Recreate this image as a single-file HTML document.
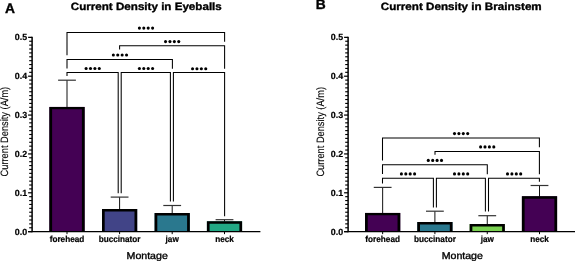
<!DOCTYPE html>
<html><head><meta charset="utf-8"><style>
html,body{margin:0;padding:0;background:#fff;}
svg{display:block;filter:blur(0.35px);}
text{font-family:"Liberation Sans", sans-serif;fill:#000;text-rendering:geometricPrecision;}
.t{stroke:#000;stroke-width:0.35px;}
.t2{stroke:#000;stroke-width:0.2px;}
.t3{stroke:#000;stroke-width:0.12px;}
.t4{stroke:#000;stroke-width:0.35px;}
</style></head><body>
<svg width="575" height="261" viewBox="0 0 575 261">
<rect width="575" height="261" fill="#fff"/>
<text x="5.0" y="12.5" class="t" font-size="13.8" font-weight="bold">A</text>
<text x="315.8" y="9.4" class="t" font-size="13.8" font-weight="bold">B</text>
<text x="70.8" y="9.7" class="t" font-size="10.6" font-weight="bold" textLength="151" lengthAdjust="spacingAndGlyphs">Current Density in Eyeballs</text>
<text x="380.8" y="9.7" class="t" font-size="10.6" font-weight="bold" textLength="160.9" lengthAdjust="spacingAndGlyphs">Current Density in Brainstem</text>
<text transform="translate(8,131.6) scale(1.12,1) rotate(-90)" x="0" y="0" class="t3" font-size="9.5" text-anchor="middle" textLength="89.6" lengthAdjust="spacingAndGlyphs">Current Density (A/m)</text>
<text transform="translate(323.6,131.8) scale(1.12,1) rotate(-90)" x="0" y="0" class="t3" font-size="9.5" text-anchor="middle" textLength="89.6" lengthAdjust="spacingAndGlyphs">Current Density (A/m)</text>
<text x="147.2" y="258.8" class="t4" font-size="9.9" text-anchor="middle" textLength="41.2" lengthAdjust="spacingAndGlyphs">Montage</text>
<text x="462.3" y="258.8" class="t4" font-size="9.9" text-anchor="middle" textLength="41.2" lengthAdjust="spacingAndGlyphs">Montage</text>
<line x1="67" y1="80.2" x2="67" y2="107.9" stroke="#111" stroke-width="1.0"/>
<line x1="58.1" y1="80.2" x2="75.9" y2="80.2" stroke="#333" stroke-width="1.2"/>
<rect x="49.4" y="106.9" width="35.2" height="124.75" fill="#440154"/>
<path d="M49.4 231.65V106.9H84.6V231.65h-2.7V109.3H52.1V231.65z" fill="#000"/>
<line x1="67" y1="231.65" x2="67" y2="234.15" stroke="#000" stroke-width="1"/>
<text x="67" y="242.4" font-size="8.8" font-weight="bold" class="t2" text-anchor="middle" textLength="34.6" lengthAdjust="spacingAndGlyphs">forehead</text>
<line x1="119.6" y1="197.1" x2="119.6" y2="210" stroke="#111" stroke-width="1.0"/>
<line x1="110.7" y1="197.1" x2="128.5" y2="197.1" stroke="#333" stroke-width="1.2"/>
<rect x="102" y="209" width="35.2" height="22.65" fill="#414487"/>
<path d="M102 231.65V209H137.2V231.65h-2.7V211.4H104.7V231.65z" fill="#000"/>
<line x1="119.6" y1="231.65" x2="119.6" y2="234.15" stroke="#000" stroke-width="1"/>
<text x="119.6" y="242.4" font-size="8.8" font-weight="bold" class="t2" text-anchor="middle" textLength="41.9" lengthAdjust="spacingAndGlyphs">buccinator</text>
<line x1="172.2" y1="205.5" x2="172.2" y2="214.1" stroke="#111" stroke-width="1.0"/>
<line x1="163.3" y1="205.5" x2="181.1" y2="205.5" stroke="#333" stroke-width="1.2"/>
<rect x="154.6" y="213.1" width="35.2" height="18.55" fill="#2A788E"/>
<path d="M154.6 231.65V213.1H189.8V231.65h-2.7V215.5H157.3V231.65z" fill="#000"/>
<line x1="172.2" y1="231.65" x2="172.2" y2="234.15" stroke="#000" stroke-width="1"/>
<text x="172.2" y="242.4" font-size="8.8" font-weight="bold" class="t2" text-anchor="middle" textLength="13.2" lengthAdjust="spacingAndGlyphs">jaw</text>
<line x1="224.5" y1="219.7" x2="224.5" y2="222.3" stroke="#111" stroke-width="1.0"/>
<line x1="215.6" y1="219.7" x2="233.4" y2="219.7" stroke="#333" stroke-width="1.2"/>
<rect x="206.9" y="221.3" width="35.2" height="10.35" fill="#22A884"/>
<path d="M206.9 231.65V221.3H242.1V231.65h-2.7V223.7H209.6V231.65z" fill="#000"/>
<line x1="224.5" y1="231.65" x2="224.5" y2="234.15" stroke="#000" stroke-width="1"/>
<text x="224.5" y="242.4" font-size="8.8" font-weight="bold" class="t2" text-anchor="middle" textLength="18.7" lengthAdjust="spacingAndGlyphs">neck</text>
<line x1="382.65" y1="187.4" x2="382.65" y2="213.9" stroke="#111" stroke-width="1.0"/>
<line x1="373.75" y1="187.4" x2="391.55" y2="187.4" stroke="#333" stroke-width="1.2"/>
<rect x="365.05" y="212.9" width="35.2" height="18.75" fill="#440154"/>
<path d="M365.05 231.65V212.9H400.25V231.65h-2.7V215.3H367.75V231.65z" fill="#000"/>
<line x1="382.65" y1="231.65" x2="382.65" y2="234.15" stroke="#000" stroke-width="1"/>
<text x="382.65" y="242.4" font-size="8.8" font-weight="bold" class="t2" text-anchor="middle" textLength="34.6" lengthAdjust="spacingAndGlyphs">forehead</text>
<line x1="434.9" y1="211.2" x2="434.9" y2="223" stroke="#111" stroke-width="1.0"/>
<line x1="426" y1="211.2" x2="443.8" y2="211.2" stroke="#333" stroke-width="1.2"/>
<rect x="417.3" y="222" width="35.2" height="9.65" fill="#2A788E"/>
<path d="M417.3 231.65V222H452.5V231.65h-2.7V224.4H420V231.65z" fill="#000"/>
<line x1="434.9" y1="231.65" x2="434.9" y2="234.15" stroke="#000" stroke-width="1"/>
<text x="434.9" y="242.4" font-size="8.8" font-weight="bold" class="t2" text-anchor="middle" textLength="41.9" lengthAdjust="spacingAndGlyphs">buccinator</text>
<line x1="487.25" y1="215.7" x2="487.25" y2="225.1" stroke="#111" stroke-width="1.0"/>
<line x1="478.35" y1="215.7" x2="496.15" y2="215.7" stroke="#333" stroke-width="1.2"/>
<rect x="469.65" y="224.1" width="35.2" height="7.55" fill="#7AD151"/>
<path d="M469.65 231.65V224.1H504.85V231.65h-2.7V226.5H472.35V231.65z" fill="#000"/>
<line x1="487.25" y1="231.65" x2="487.25" y2="234.15" stroke="#000" stroke-width="1"/>
<text x="487.25" y="242.4" font-size="8.8" font-weight="bold" class="t2" text-anchor="middle" textLength="13.2" lengthAdjust="spacingAndGlyphs">jaw</text>
<line x1="539.5" y1="185.5" x2="539.5" y2="197.3" stroke="#111" stroke-width="1.0"/>
<line x1="530.6" y1="185.5" x2="548.4" y2="185.5" stroke="#333" stroke-width="1.2"/>
<rect x="521.9" y="196.3" width="35.2" height="35.35" fill="#440154"/>
<path d="M521.9 231.65V196.3H557.1V231.65h-2.7V198.7H524.6V231.65z" fill="#000"/>
<line x1="539.5" y1="231.65" x2="539.5" y2="234.15" stroke="#000" stroke-width="1"/>
<text x="539.5" y="242.4" font-size="8.8" font-weight="bold" class="t2" text-anchor="middle" textLength="18.7" lengthAdjust="spacingAndGlyphs">neck</text>
<line x1="32.1" y1="36.75" x2="32.1" y2="232.35" stroke="#000" stroke-width="1.5"/>
<line x1="28.1" y1="231.65" x2="260.4" y2="231.65" stroke="#000" stroke-width="1.4"/>
<line x1="28.1" y1="231.65" x2="32.1" y2="231.65" stroke="#000" stroke-width="1.25"/>
<text x="27.1" y="234.75" font-size="8.9" font-weight="bold" class="t2" text-anchor="end">0.0</text>
<line x1="28.1" y1="192.79" x2="32.1" y2="192.79" stroke="#000" stroke-width="1.25"/>
<text x="27.1" y="195.89" font-size="8.9" font-weight="bold" class="t2" text-anchor="end">0.1</text>
<line x1="28.1" y1="153.93" x2="32.1" y2="153.93" stroke="#000" stroke-width="1.25"/>
<text x="27.1" y="157.03" font-size="8.9" font-weight="bold" class="t2" text-anchor="end">0.2</text>
<line x1="28.1" y1="115.07" x2="32.1" y2="115.07" stroke="#000" stroke-width="1.25"/>
<text x="27.1" y="118.17" font-size="8.9" font-weight="bold" class="t2" text-anchor="end">0.3</text>
<line x1="28.1" y1="76.21" x2="32.1" y2="76.21" stroke="#000" stroke-width="1.25"/>
<text x="27.1" y="79.31" font-size="8.9" font-weight="bold" class="t2" text-anchor="end">0.4</text>
<line x1="28.1" y1="37.35" x2="32.1" y2="37.35" stroke="#000" stroke-width="1.25"/>
<text x="27.1" y="40.45" font-size="8.9" font-weight="bold" class="t2" text-anchor="end">0.5</text>
<line x1="29.2" y1="227.76" x2="32.1" y2="227.76" stroke="#000" stroke-width="1.15"/>
<line x1="29.2" y1="223.88" x2="32.1" y2="223.88" stroke="#000" stroke-width="1.15"/>
<line x1="29.2" y1="219.99" x2="32.1" y2="219.99" stroke="#000" stroke-width="1.15"/>
<line x1="29.2" y1="216.11" x2="32.1" y2="216.11" stroke="#000" stroke-width="1.15"/>
<line x1="29.2" y1="212.22" x2="32.1" y2="212.22" stroke="#000" stroke-width="1.15"/>
<line x1="29.2" y1="208.33" x2="32.1" y2="208.33" stroke="#000" stroke-width="1.15"/>
<line x1="29.2" y1="204.45" x2="32.1" y2="204.45" stroke="#000" stroke-width="1.15"/>
<line x1="29.2" y1="200.56" x2="32.1" y2="200.56" stroke="#000" stroke-width="1.15"/>
<line x1="29.2" y1="196.68" x2="32.1" y2="196.68" stroke="#000" stroke-width="1.15"/>
<line x1="29.2" y1="188.9" x2="32.1" y2="188.9" stroke="#000" stroke-width="1.15"/>
<line x1="29.2" y1="185.02" x2="32.1" y2="185.02" stroke="#000" stroke-width="1.15"/>
<line x1="29.2" y1="181.13" x2="32.1" y2="181.13" stroke="#000" stroke-width="1.15"/>
<line x1="29.2" y1="177.25" x2="32.1" y2="177.25" stroke="#000" stroke-width="1.15"/>
<line x1="29.2" y1="173.36" x2="32.1" y2="173.36" stroke="#000" stroke-width="1.15"/>
<line x1="29.2" y1="169.47" x2="32.1" y2="169.47" stroke="#000" stroke-width="1.15"/>
<line x1="29.2" y1="165.59" x2="32.1" y2="165.59" stroke="#000" stroke-width="1.15"/>
<line x1="29.2" y1="161.7" x2="32.1" y2="161.7" stroke="#000" stroke-width="1.15"/>
<line x1="29.2" y1="157.82" x2="32.1" y2="157.82" stroke="#000" stroke-width="1.15"/>
<line x1="29.2" y1="150.04" x2="32.1" y2="150.04" stroke="#000" stroke-width="1.15"/>
<line x1="29.2" y1="146.16" x2="32.1" y2="146.16" stroke="#000" stroke-width="1.15"/>
<line x1="29.2" y1="142.27" x2="32.1" y2="142.27" stroke="#000" stroke-width="1.15"/>
<line x1="29.2" y1="138.39" x2="32.1" y2="138.39" stroke="#000" stroke-width="1.15"/>
<line x1="29.2" y1="134.5" x2="32.1" y2="134.5" stroke="#000" stroke-width="1.15"/>
<line x1="29.2" y1="130.61" x2="32.1" y2="130.61" stroke="#000" stroke-width="1.15"/>
<line x1="29.2" y1="126.73" x2="32.1" y2="126.73" stroke="#000" stroke-width="1.15"/>
<line x1="29.2" y1="122.84" x2="32.1" y2="122.84" stroke="#000" stroke-width="1.15"/>
<line x1="29.2" y1="118.96" x2="32.1" y2="118.96" stroke="#000" stroke-width="1.15"/>
<line x1="29.2" y1="111.18" x2="32.1" y2="111.18" stroke="#000" stroke-width="1.15"/>
<line x1="29.2" y1="107.3" x2="32.1" y2="107.3" stroke="#000" stroke-width="1.15"/>
<line x1="29.2" y1="103.41" x2="32.1" y2="103.41" stroke="#000" stroke-width="1.15"/>
<line x1="29.2" y1="99.53" x2="32.1" y2="99.53" stroke="#000" stroke-width="1.15"/>
<line x1="29.2" y1="95.64" x2="32.1" y2="95.64" stroke="#000" stroke-width="1.15"/>
<line x1="29.2" y1="91.75" x2="32.1" y2="91.75" stroke="#000" stroke-width="1.15"/>
<line x1="29.2" y1="87.87" x2="32.1" y2="87.87" stroke="#000" stroke-width="1.15"/>
<line x1="29.2" y1="83.98" x2="32.1" y2="83.98" stroke="#000" stroke-width="1.15"/>
<line x1="29.2" y1="80.1" x2="32.1" y2="80.1" stroke="#000" stroke-width="1.15"/>
<line x1="29.2" y1="72.32" x2="32.1" y2="72.32" stroke="#000" stroke-width="1.15"/>
<line x1="29.2" y1="68.44" x2="32.1" y2="68.44" stroke="#000" stroke-width="1.15"/>
<line x1="29.2" y1="64.55" x2="32.1" y2="64.55" stroke="#000" stroke-width="1.15"/>
<line x1="29.2" y1="60.67" x2="32.1" y2="60.67" stroke="#000" stroke-width="1.15"/>
<line x1="29.2" y1="56.78" x2="32.1" y2="56.78" stroke="#000" stroke-width="1.15"/>
<line x1="29.2" y1="52.89" x2="32.1" y2="52.89" stroke="#000" stroke-width="1.15"/>
<line x1="29.2" y1="49.01" x2="32.1" y2="49.01" stroke="#000" stroke-width="1.15"/>
<line x1="29.2" y1="45.12" x2="32.1" y2="45.12" stroke="#000" stroke-width="1.15"/>
<line x1="29.2" y1="41.24" x2="32.1" y2="41.24" stroke="#000" stroke-width="1.15"/>
<line x1="348.1" y1="36.75" x2="348.1" y2="232.35" stroke="#000" stroke-width="1.5"/>
<line x1="344.1" y1="231.65" x2="577" y2="231.65" stroke="#000" stroke-width="1.4"/>
<line x1="344.1" y1="231.65" x2="348.1" y2="231.65" stroke="#000" stroke-width="1.25"/>
<text x="343.1" y="234.75" font-size="8.9" font-weight="bold" class="t2" text-anchor="end">0.0</text>
<line x1="344.1" y1="192.79" x2="348.1" y2="192.79" stroke="#000" stroke-width="1.25"/>
<text x="343.1" y="195.89" font-size="8.9" font-weight="bold" class="t2" text-anchor="end">0.1</text>
<line x1="344.1" y1="153.93" x2="348.1" y2="153.93" stroke="#000" stroke-width="1.25"/>
<text x="343.1" y="157.03" font-size="8.9" font-weight="bold" class="t2" text-anchor="end">0.2</text>
<line x1="344.1" y1="115.07" x2="348.1" y2="115.07" stroke="#000" stroke-width="1.25"/>
<text x="343.1" y="118.17" font-size="8.9" font-weight="bold" class="t2" text-anchor="end">0.3</text>
<line x1="344.1" y1="76.21" x2="348.1" y2="76.21" stroke="#000" stroke-width="1.25"/>
<text x="343.1" y="79.31" font-size="8.9" font-weight="bold" class="t2" text-anchor="end">0.4</text>
<line x1="344.1" y1="37.35" x2="348.1" y2="37.35" stroke="#000" stroke-width="1.25"/>
<text x="343.1" y="40.45" font-size="8.9" font-weight="bold" class="t2" text-anchor="end">0.5</text>
<line x1="345.2" y1="227.76" x2="348.1" y2="227.76" stroke="#000" stroke-width="1.15"/>
<line x1="345.2" y1="223.88" x2="348.1" y2="223.88" stroke="#000" stroke-width="1.15"/>
<line x1="345.2" y1="219.99" x2="348.1" y2="219.99" stroke="#000" stroke-width="1.15"/>
<line x1="345.2" y1="216.11" x2="348.1" y2="216.11" stroke="#000" stroke-width="1.15"/>
<line x1="345.2" y1="212.22" x2="348.1" y2="212.22" stroke="#000" stroke-width="1.15"/>
<line x1="345.2" y1="208.33" x2="348.1" y2="208.33" stroke="#000" stroke-width="1.15"/>
<line x1="345.2" y1="204.45" x2="348.1" y2="204.45" stroke="#000" stroke-width="1.15"/>
<line x1="345.2" y1="200.56" x2="348.1" y2="200.56" stroke="#000" stroke-width="1.15"/>
<line x1="345.2" y1="196.68" x2="348.1" y2="196.68" stroke="#000" stroke-width="1.15"/>
<line x1="345.2" y1="188.9" x2="348.1" y2="188.9" stroke="#000" stroke-width="1.15"/>
<line x1="345.2" y1="185.02" x2="348.1" y2="185.02" stroke="#000" stroke-width="1.15"/>
<line x1="345.2" y1="181.13" x2="348.1" y2="181.13" stroke="#000" stroke-width="1.15"/>
<line x1="345.2" y1="177.25" x2="348.1" y2="177.25" stroke="#000" stroke-width="1.15"/>
<line x1="345.2" y1="173.36" x2="348.1" y2="173.36" stroke="#000" stroke-width="1.15"/>
<line x1="345.2" y1="169.47" x2="348.1" y2="169.47" stroke="#000" stroke-width="1.15"/>
<line x1="345.2" y1="165.59" x2="348.1" y2="165.59" stroke="#000" stroke-width="1.15"/>
<line x1="345.2" y1="161.7" x2="348.1" y2="161.7" stroke="#000" stroke-width="1.15"/>
<line x1="345.2" y1="157.82" x2="348.1" y2="157.82" stroke="#000" stroke-width="1.15"/>
<line x1="345.2" y1="150.04" x2="348.1" y2="150.04" stroke="#000" stroke-width="1.15"/>
<line x1="345.2" y1="146.16" x2="348.1" y2="146.16" stroke="#000" stroke-width="1.15"/>
<line x1="345.2" y1="142.27" x2="348.1" y2="142.27" stroke="#000" stroke-width="1.15"/>
<line x1="345.2" y1="138.39" x2="348.1" y2="138.39" stroke="#000" stroke-width="1.15"/>
<line x1="345.2" y1="134.5" x2="348.1" y2="134.5" stroke="#000" stroke-width="1.15"/>
<line x1="345.2" y1="130.61" x2="348.1" y2="130.61" stroke="#000" stroke-width="1.15"/>
<line x1="345.2" y1="126.73" x2="348.1" y2="126.73" stroke="#000" stroke-width="1.15"/>
<line x1="345.2" y1="122.84" x2="348.1" y2="122.84" stroke="#000" stroke-width="1.15"/>
<line x1="345.2" y1="118.96" x2="348.1" y2="118.96" stroke="#000" stroke-width="1.15"/>
<line x1="345.2" y1="111.18" x2="348.1" y2="111.18" stroke="#000" stroke-width="1.15"/>
<line x1="345.2" y1="107.3" x2="348.1" y2="107.3" stroke="#000" stroke-width="1.15"/>
<line x1="345.2" y1="103.41" x2="348.1" y2="103.41" stroke="#000" stroke-width="1.15"/>
<line x1="345.2" y1="99.53" x2="348.1" y2="99.53" stroke="#000" stroke-width="1.15"/>
<line x1="345.2" y1="95.64" x2="348.1" y2="95.64" stroke="#000" stroke-width="1.15"/>
<line x1="345.2" y1="91.75" x2="348.1" y2="91.75" stroke="#000" stroke-width="1.15"/>
<line x1="345.2" y1="87.87" x2="348.1" y2="87.87" stroke="#000" stroke-width="1.15"/>
<line x1="345.2" y1="83.98" x2="348.1" y2="83.98" stroke="#000" stroke-width="1.15"/>
<line x1="345.2" y1="80.1" x2="348.1" y2="80.1" stroke="#000" stroke-width="1.15"/>
<line x1="345.2" y1="72.32" x2="348.1" y2="72.32" stroke="#000" stroke-width="1.15"/>
<line x1="345.2" y1="68.44" x2="348.1" y2="68.44" stroke="#000" stroke-width="1.15"/>
<line x1="345.2" y1="64.55" x2="348.1" y2="64.55" stroke="#000" stroke-width="1.15"/>
<line x1="345.2" y1="60.67" x2="348.1" y2="60.67" stroke="#000" stroke-width="1.15"/>
<line x1="345.2" y1="56.78" x2="348.1" y2="56.78" stroke="#000" stroke-width="1.15"/>
<line x1="345.2" y1="52.89" x2="348.1" y2="52.89" stroke="#000" stroke-width="1.15"/>
<line x1="345.2" y1="49.01" x2="348.1" y2="49.01" stroke="#000" stroke-width="1.15"/>
<line x1="345.2" y1="45.12" x2="348.1" y2="45.12" stroke="#000" stroke-width="1.15"/>
<line x1="345.2" y1="41.24" x2="348.1" y2="41.24" stroke="#000" stroke-width="1.15"/>
<path d="M67 55.2V32.45H224.6V41.8" fill="none" stroke="#000" stroke-width="1.05"/><circle cx="139.4" cy="28.1" r="1.55"/><circle cx="143.8" cy="28.1" r="1.55"/><circle cx="148.2" cy="28.1" r="1.55"/><circle cx="152.6" cy="28.1" r="1.55"/>
<path d="M119.6 49.6V45.7H224.6V68.7" fill="none" stroke="#000" stroke-width="1.05"/><circle cx="165.55" cy="41.6" r="1.55"/><circle cx="169.95" cy="41.6" r="1.55"/><circle cx="174.35" cy="41.6" r="1.55"/><circle cx="178.75" cy="41.6" r="1.55"/>
<path d="M67 68.6V59.5H172.4V68.7" fill="none" stroke="#000" stroke-width="1.05"/><circle cx="113.35" cy="55" r="1.55"/><circle cx="117.75" cy="55" r="1.55"/><circle cx="122.15" cy="55" r="1.55"/><circle cx="126.55" cy="55" r="1.55"/>
<path d="M67 76V72.5H118.2V193.3" fill="none" stroke="#000" stroke-width="1.05"/><circle cx="86.1" cy="68.5" r="1.55"/><circle cx="90.5" cy="68.5" r="1.55"/><circle cx="94.9" cy="68.5" r="1.55"/><circle cx="99.3" cy="68.5" r="1.55"/>
<path d="M121.2 193.3V72.5H170.4V201.5" fill="none" stroke="#000" stroke-width="1.05"/><circle cx="139.4" cy="68.5" r="1.55"/><circle cx="143.8" cy="68.5" r="1.55"/><circle cx="148.2" cy="68.5" r="1.55"/><circle cx="152.6" cy="68.5" r="1.55"/>
<path d="M173.4 201.5V72.5H224.6V216.3" fill="none" stroke="#000" stroke-width="1.05"/><circle cx="192.55" cy="68.7" r="1.55"/><circle cx="196.95" cy="68.7" r="1.55"/><circle cx="201.35" cy="68.7" r="1.55"/><circle cx="205.75" cy="68.7" r="1.55"/>
<path d="M382.5 160.6V137.9H539.4V147.2" fill="none" stroke="#000" stroke-width="1.05"/><circle cx="454.5" cy="133.6" r="1.55"/><circle cx="458.9" cy="133.6" r="1.55"/><circle cx="463.3" cy="133.6" r="1.55"/><circle cx="467.7" cy="133.6" r="1.55"/>
<path d="M435 154.7V151.4H539.4V174.3" fill="none" stroke="#000" stroke-width="1.05"/><circle cx="480.6" cy="146.9" r="1.55"/><circle cx="485" cy="146.9" r="1.55"/><circle cx="489.4" cy="146.9" r="1.55"/><circle cx="493.8" cy="146.9" r="1.55"/>
<path d="M382.5 173.9V164.7H487.3V174.3" fill="none" stroke="#000" stroke-width="1.05"/><circle cx="428.3" cy="160.4" r="1.55"/><circle cx="432.7" cy="160.4" r="1.55"/><circle cx="437.1" cy="160.4" r="1.55"/><circle cx="441.5" cy="160.4" r="1.55"/>
<path d="M382.5 183.5V178.2H433.4V207.5" fill="none" stroke="#000" stroke-width="1.05"/><circle cx="401.4" cy="173.9" r="1.55"/><circle cx="405.8" cy="173.9" r="1.55"/><circle cx="410.2" cy="173.9" r="1.55"/><circle cx="414.6" cy="173.9" r="1.55"/>
<path d="M436.4 207.5V178.2H485.4V211.5" fill="none" stroke="#000" stroke-width="1.05"/><circle cx="454.5" cy="173.9" r="1.55"/><circle cx="458.9" cy="173.9" r="1.55"/><circle cx="463.3" cy="173.9" r="1.55"/><circle cx="467.7" cy="173.9" r="1.55"/>
<path d="M488.5 211.5V178.2H539.4V181.7" fill="none" stroke="#000" stroke-width="1.05"/><circle cx="507.5" cy="173.9" r="1.55"/><circle cx="511.9" cy="173.9" r="1.55"/><circle cx="516.3" cy="173.9" r="1.55"/><circle cx="520.7" cy="173.9" r="1.55"/>
</svg>
</body></html>
